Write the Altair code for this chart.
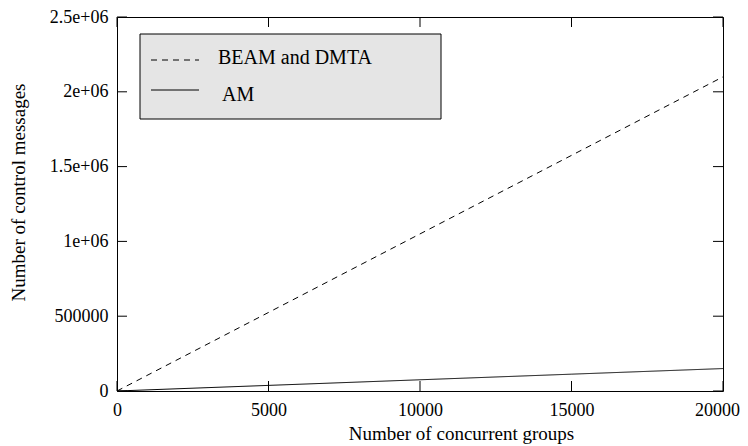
import altair as alt
import pandas as pd

# ---- data ----
groups = [0, 5000, 10000, 15000, 20000]
beam_dmta = [0, 525000, 1050000, 1575000, 2100000]
am = [0, 37500, 75000, 112500, 150000]
series_names = ["BEAM and DMTA", "AM"]
x_ticks = [0, 5000, 10000, 15000, 20000]
y_ticks = [0, 500000, 1000000, 1500000, 2000000, 2500000]
y_tick_labels = ["0", "500000", "1e+06", "1.5e+06", "2e+06", "2.5e+06"]
x_title = "Number of concurrent groups"
y_title = "Number of control messages"

# ---- layout / style ----
W, H = 606, 374
TICK = 10
FONT = "Liberation Serif"
TICK_FS = 18
TITLE_FS = 19
LEG_FS = 20
dashes = [[6, 5], [1, 0]]
legend_line_y = [43, 73]
legend_text_y = [40.5, 77.5]
legend_text_x = [101, 105]

rows = []
for g, b, a in zip(groups, beam_dmta, am):
    rows.append({"groups": g, "messages": b, "series": series_names[0]})
    rows.append({"groups": g, "messages": a, "series": series_names[1]})
df = pd.DataFrame(rows)

x_scale = alt.Scale(domain=[0, 20000], nice=False, zero=False)
y_scale = alt.Scale(domain=[0, 2500000], nice=False)

label_expr = " : ".join(
    f"datum.value == {v} ? '{l}'" for v, l in zip(y_ticks, y_tick_labels)
) + " : ''"

x_axis = alt.Axis(
    values=x_ticks, format="d", title=x_title, ticks=False, domain=False,
    grid=False, labelFlush=False, labelOverlap=False, labelPadding=10,
    labelOffset={"condition": {"test": f"datum.value == {x_ticks[-1]}", "value": -6}, "value": 0},
    labelFont=FONT, labelFontSize=TICK_FS, labelColor="black",
    titleFont=FONT, titleFontSize=TITLE_FS, titleFontWeight="normal",
    titleColor="black", titleX=344, titleY=42, titleBaseline="middle",
)
y_axis = alt.Axis(
    values=y_ticks, labelExpr=label_expr, title=y_title, ticks=False,
    domain=False, grid=False, labelFlush=False, labelOverlap=False,
    labelPadding=9, labelFont=FONT, labelFontSize=TICK_FS,
    labelColor="black", labelBaseline="middle",
    titleFont=FONT, titleFontSize=TITLE_FS, titleFontWeight="normal",
    titleColor="black", titleX=-99, titleY=175, titleAngle=270,
    titleBaseline="middle", titleAlign="center",
)

lines = alt.Chart(df).mark_line(color="black", strokeWidth=1).encode(
    x=alt.X("groups:Q", scale=x_scale, axis=x_axis),
    y=alt.Y("messages:Q", scale=y_scale, axis=y_axis),
    strokeDash=alt.StrokeDash(
        "series:N", scale=alt.Scale(domain=series_names, range=dashes), legend=None
    ),
)

xt = pd.DataFrame({"t": x_ticks})
yt = pd.DataFrame({"t": y_ticks})
rule = dict(color="black", strokeWidth=1)
xenc = alt.X("t:Q", scale=x_scale, axis=x_axis)
yenc = alt.Y("t:Q", scale=y_scale, axis=y_axis)

tick_bottom = alt.Chart(xt).mark_rule(**rule).encode(x=xenc, y=alt.value(H), y2=alt.value(H - TICK))
tick_top = alt.Chart(xt).mark_rule(**rule).encode(x=xenc, y=alt.value(0), y2=alt.value(TICK))
tick_left = alt.Chart(yt).mark_rule(**rule).encode(y=yenc, x=alt.value(0), x2=alt.value(TICK))
tick_right = alt.Chart(yt).mark_rule(**rule).encode(y=yenc, x=alt.value(W - TICK), x2=alt.value(W))

leg_df = pd.DataFrame({"series": series_names})
legend_box = alt.Chart(leg_df.head(1)).mark_rect(
    fill="#e5e5e5", stroke="black", strokeWidth=1
).encode(x=alt.value(23), x2=alt.value(324), y=alt.value(17), y2=alt.value(102))

legend_layers = [legend_box]
for i, name in enumerate(series_names):
    d = pd.DataFrame({"series": [name]})
    legend_layers.append(
        alt.Chart(d).mark_rule(color="black", strokeWidth=1, strokeDash=dashes[i]).encode(
            x=alt.value(34), x2=alt.value(82), y=alt.value(legend_line_y[i])
        )
    )
    legend_layers.append(
        alt.Chart(d).mark_text(
            align="left", baseline="middle", font=FONT, fontSize=LEG_FS, color="black"
        ).encode(text="series:N", x=alt.value(legend_text_x[i]), y=alt.value(legend_text_y[i]))
    )

chart = alt.layer(
    lines, tick_bottom, tick_top, tick_left, tick_right, *legend_layers
).properties(
    width=W, height=H,
    autosize=alt.AutoSizeParams(type="none"),
    padding={"left": 109, "top": 9, "right": 17, "bottom": 53},
    background="white",
).configure_view(stroke="black", strokeWidth=1)

chart.save("out.html", embed_options={"renderer": "svg", "actions": False})
